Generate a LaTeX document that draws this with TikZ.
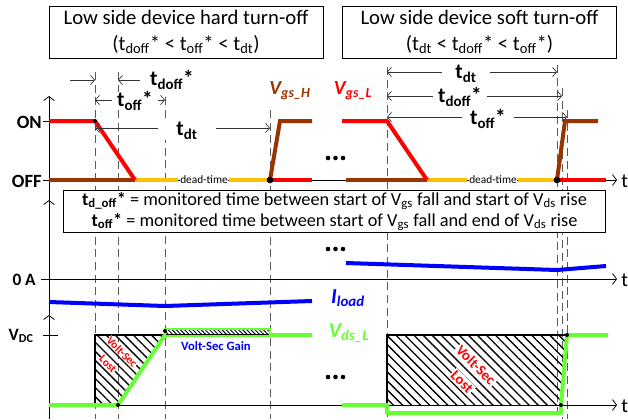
\documentclass[tikz,border=0pt]{standalone}
\usepackage{fontspec}
\setmainfont{Carlito}
\usetikzlibrary{arrows.meta,patterns.meta}
\definecolor{vred}{HTML}{FF0000}
\definecolor{vbrown}{HTML}{993300}
\definecolor{vyellow}{HTML}{FFC000}
\definecolor{vgreen}{HTML}{66FF33}
\definecolor{vblue}{HTML}{0000FF}
\definecolor{guidegray}{HTML}{595959}
\newcommand{\sbs}[1]{\textsubscript{#1}}
\newcommand{\fs}[1]{\fontsize{#1}{#1}\selectfont}
\begin{document}
\begin{tikzpicture}[x=0.75pt,y=-0.75pt,
  axisline/.style={black, line width=0.6pt, -{Straight Barb[length=3pt,width=8pt]}},
  dimline/.style={black!80, line width=0.5pt, {Straight Barb[length=3pt,width=7pt]}-{Straight Barb[length=3pt,width=7pt]}},
  halfdim/.style={black!80, line width=0.5pt, -{Straight Barb[length=3pt,width=7pt]}},
  guide/.style={guidegray, line width=0.6pt, dash pattern=on 6pt off 3.5pt},
  wave/.style={line width=3pt},
  dimlabel/.style={font=\fs{16}\bfseries, fill=white, inner ysep=0pt},
  lvl/.style={font=\fs{14}\bfseries, inner sep=0pt, anchor=east},
  tlabel/.style={font=\fs{15}, inner sep=0pt, anchor=west},
  hatch/.style={pattern={Lines[angle=-45,distance=4.8pt,line width=1pt]}},
  hatchfine/.style={pattern={Lines[angle=-45,distance=2.2pt,line width=0.7pt]}},
  dotmark/.style={fill=black, circle, inner sep=0pt},
  lostlabel/.style={text=vred, fill=white, inner sep=1pt},
]
\useasboundingbox (0,0) rectangle (628,419);

% ---- guide lines (dashed) ----
\foreach \gx/\gy/\nm in {95/72/ga,118/72/gb,165/97/gc,270/110/gd,387/67/ge,557/65/gf,562/88/gg,567/110/gh}{
  \coordinate (\nm) at (\gx,\gy);
  \coordinate (\nm-b) at (\gx,419);
  \draw[guide] (\nm) -- (\nm-b);
}

% ---- axes ----
\coordinate (vaxbot) at (49,419);
\coordinate (vax3) at (49,315);
\coordinate (vax2) at (49,200);
\coordinate (vax1) at (49,96);
\draw[axisline] (vaxbot) -- (vax3);
\draw[axisline] (vax3) -- (vax2);
\draw[axisline] (vax2) -- (vax1);

\coordinate (ax1l) at (43,180); \coordinate (ax1r) at (617,180);
\coordinate (ax2l) at (41,279); \coordinate (ax2r) at (617,279);
\coordinate (ax3l) at (49,405); \coordinate (ax3r) at (617,405);
\draw[axisline] (ax1l) -- (ax1r);
\draw[axisline] (ax2l) -- (ax2r);
\draw[axisline] (ax3l) -- (ax3r);
\draw[black, line width=0.6pt] (43,121) -- (57,121);
\draw[black, line width=0.6pt] (43,335) -- (58,335);

\node[tlabel] (t1) at (621,181) {t};
\node[tlabel] (t2) at (621,280) {t};
\node[tlabel] (t3) at (621,406) {t};

\node[lvl] (on) at (42,122) {ON};
\node[lvl] (off) at (42,181) {OFF};
\node[lvl, font=\fs{13}\bfseries] (zeroA) at (36,280) {0 A};
\node[lvl, font=\fs{13}\bfseries] (vdc) at (34,336) {V\sbs{DC}};

% ---- titles ----
\node[draw, line width=0.6pt, minimum width=205.5pt, minimum height=39pt, align=center,
      font=\fontsize{15.5}{19.5}\selectfont, inner sep=0pt] (titleL) at (186,32)
  {Low side device hard turn-off\\(t\sbs{doff}* < t\sbs{off}* < t\sbs{dt})};
\node[draw, line width=0.6pt, minimum width=206pt, minimum height=39pt, align=center,
      font=\fontsize{15.5}{19.5}\selectfont, inner sep=0pt] (titleR) at (479.5,32)
  {Low side device soft turn-off\\(t\sbs{dt} < t\sbs{doff}* < t\sbs{off}*)};

% ---- Vgs waveforms, left ----
\draw[wave, vyellow] (135,180) -- (178,180);
\draw[wave, vyellow] (229,180) -- (270,180);
\draw[wave, vbrown] (49,180) -- (135,180);
\draw[wave, vred, line join=round] (49,121) -- (95,121) -- (135,180);
\draw[wave, vred] (270,180) -- (312,180);
\draw[wave, vbrown] (270,180) -- (280,121) -- (312,121);
\node[dotmark, minimum size=3pt] (d1) at (95,121) {};
\node[dotmark, minimum size=5pt] (d2) at (270,180) {};
\node[font=\fs{8.5}, fill=white, inner sep=0.5pt] (dtL) at (204,180) {dead-time};

% ---- Vgs waveforms, right ----
\draw[wave, vyellow] (427,180) -- (467,180);
\draw[wave, vyellow] (518,180) -- (557,180);
\draw[wave, vbrown] (346,180) -- (427,180);
\draw[wave, vred, line join=round] (342,121) -- (387,121) -- (427,180);
\draw[wave, vred] (557,180) -- (606,180);
\draw[wave, vbrown] (557,180) -- (565,121) -- (598,121);
\node[dotmark, minimum size=5pt] (d3) at (557,180) {};
\node[font=\fs{8.5}, fill=white, inner sep=0.5pt] (dtR) at (493,180) {dead-time};

\node[text=vbrown, font=\fs{15}\bfseries\itshape] (vgsh) at (290,91) {V\sbs{gs\_H}};
\node[text=vred, font=\fs{15}\bfseries\itshape] (vgsl) at (353,91) {V\sbs{gs\_L}};

% ellipses
\foreach \cy in {158,249,377}{
  \foreach \cx in {328,335.5,343}{ \fill (\cx,\cy) circle (2.3); }
}

% ---- dimension arrows, left ----
\draw[halfdim] (70,80) -- (ga |- 0,80);
\draw[halfdim] (140,80) -- (gb |- 0,80);
\node[font=\fs{16}\bfseries, inner sep=0pt] (tdoffL) at (172,80) {t\sbs{doff}*};
\draw[dimline] (ga |- 0,100) -- (gc |- 0,100);
\node[dimlabel, inner xsep=4pt] (toffL) at (135,101) {t\sbs{off}*};
\draw[dimline] (ga |- 0,128) -- (gd |- 0,128);
\node[dimlabel, inner xsep=14pt] (tdtL) at (187,131) {t\sbs{dt}};

% ---- dimension arrows, right ----
\draw[dimline] (ge |- 0,72) -- (gf |- 0,72);
\node[dimlabel, inner xsep=10pt] (tdtR) at (466,74) {t\sbs{dt}};
\draw[dimline] (ge |- 0,96) -- (gg |- 0,96);
\node[dimlabel, inner xsep=4pt] (tdoffR) at (460,97) {t\sbs{doff}*};
\draw[dimline] (ge |- 0,117) -- (gh |- 0,117);
\node[dimlabel, inner xsep=6pt] (toffR) at (488,119) {t\sbs{off}*};

% ---- legend ----
\node[draw, fill=white, line width=0.6pt, minimum width=407pt, minimum height=32pt, align=center,
      font=\fontsize{13.7}{15.75}\selectfont, inner sep=0pt] (legend) at (334.5,211.5)
  {\textbf{t\sbs{d\_off}*} = monitored time between start of V\sbs{gs} fall and start of V\sbs{ds} rise\\
   \textbf{t\sbs{off}*} = monitored time between start of V\sbs{gs} fall and end of V\sbs{ds} rise};

% ---- load current ----
\draw[wave, vblue] (49,302) -- (165,306) -- (312,301);
\draw[wave, vblue] (346,263) -- (557,270) -- (606,266);
\node[text=vblue, font=\fs{16}\bfseries\itshape] (iload) at (348,298) {I\sbs{load}};

% ---- Vds, left ----
\fill[hatch] (95,335) -- (165,335) -- (118,405) -- (95,405) -- cycle;
\draw[black, line width=1pt] (95,405) -- (95,335) -- (270,335);
\draw[vgreen, line width=1.3pt, hatchfine] (165,329) rectangle (270,336);
\draw[wave, vgreen, line join=round] (49,405) -- (118,405) -- (165,335);
\draw[vgreen, line width=2.2pt] (165,329) -- (270,329);
\draw[wave, vgreen] (270,335) -- (312,335);
\node[dotmark, minimum size=3pt] (d4) at (118,405) {};
\node[dotmark, minimum size=3pt] (d5) at (165,331) {};
\node[lostlabel, rotate=-45, font=\fs{8.5}\bfseries, inner sep=0.3pt] (lostL1) at (122,352) {Volt-Sec};
\node[lostlabel, rotate=-45, font=\fs{8.5}\bfseries, inner sep=0.3pt] (lostL2) at (108,364) {Lost};
\node[text=vblue, font=\fs{9.5}\bfseries] (gain) at (216,346) {Volt-Sec Gain};

% ---- Vds, right ----
\fill[hatch] (387,335) -- (567,335) -- (561,405) -- (387,405) -- cycle;
\draw[black, line width=1pt] (387,405) -- (387,335) -- (567,335);
\draw[wave, vgreen, line join=round] (342,405) -- (387,405) -- (387,413) -- (561,413) -- (561,405) -- (567,335) -- (608,335);
\node[dotmark, minimum size=3pt] (d6) at (561,405) {};
\node[dotmark, minimum size=3pt] (d7) at (567,335) {};
\node[lostlabel, rotate=-45, font=\fs{11}\bfseries] (lostR1) at (476,365) {Volt-Sec};
\node[lostlabel, rotate=-45, font=\fs{11}\bfseries] (lostR2) at (462,382) {Lost};

\node[text=vgreen, font=\fs{16}\bfseries\itshape] (vdsl) at (349,333) {V\sbs{ds\_L}};
\end{tikzpicture}
\end{document}
